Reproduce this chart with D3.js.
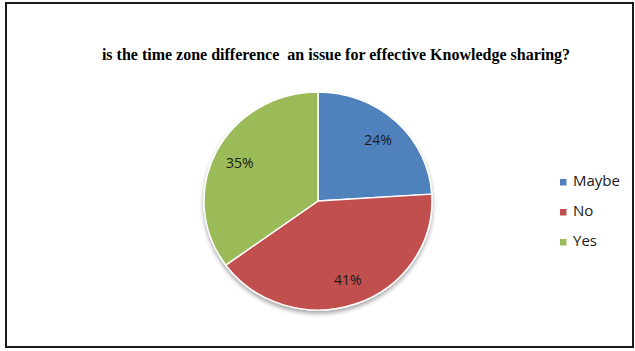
<!DOCTYPE html>
<html>
<head>
<meta charset="utf-8">
<script src="https://cdn.jsdelivr.net/npm/d3@7"></script>
<style>
  html, body { margin: 0; padding: 0; background: #fff; }
  svg { display: block; }
</style>
</head>
<body>
<svg id="chart" width="635" height="351"></svg>
<script>
// Survey answers and their shares (percent)
const categories = ["Maybe", "No", "Yes"];
const shares = [24, 41, 35];
const colors = ["#4F81BD", "#C0504D", "#9BBB59"];
const title = "is the time zone difference  an issue for effective Knowledge sharing?";

const svg = d3.select("#chart");

// Outer frame
svg.append("rect")
  .attr("x", 6).attr("y", 3)
  .attr("width", 627).attr("height", 344)
  .attr("fill", "#fff")
  .attr("stroke", "#1a1a1a")
  .attr("stroke-width", 2);

// Title
svg.append("text")
  .attr("x", 336).attr("y", 60)
  .attr("text-anchor", "middle")
  .attr("font-family", "'Liberation Serif', 'Times New Roman', serif")
  .attr("font-weight", "bold")
  .attr("font-size", 16)
  .attr("fill", "#000")
  .attr("xml:space", "preserve")
  .style("white-space", "pre")
  .text(title);

// Soft shadow under the pie
const defs = svg.append("defs");
const f = defs.append("filter").attr("id", "shadow")
  .attr("x", "-20%").attr("y", "-20%").attr("width", "140%").attr("height", "140%");
f.append("feGaussianBlur").attr("in", "SourceAlpha").attr("stdDeviation", 2).attr("result", "b");
f.append("feOffset").attr("in", "b").attr("dx", 0).attr("dy", 3).attr("result", "o");
f.append("feComponentTransfer").attr("in", "o").attr("result", "s")
  .append("feFuncA").attr("type", "linear").attr("slope", 0.35);
const m = f.append("feMerge");
m.append("feMergeNode").attr("in", "s");
m.append("feMergeNode").attr("in", "SourceGraphic");

const cx = 318, cy = 201, r = 114, sy = 0.956;

const pie = d3.pie().sort(null).value(d => d)(shares);
const arc = d3.arc().innerRadius(0).outerRadius(r);
const labelArc = d3.arc().innerRadius(r * 0.77).outerRadius(r * 0.77);

const g = svg.append("g")
  .attr("transform", `translate(${cx},${cy}) scale(1,${sy})`);

g.append("g").attr("filter", "url(#shadow)")
  .selectAll("path")
  .data(pie)
  .join("path")
  .attr("d", arc)
  .attr("fill", (d, i) => colors[i])
  .attr("stroke", "#fff")
  .attr("stroke-width", 1.5)
  .attr("stroke-linejoin", "round");

// Percentage labels inside slices
const fmt = d => d + "%";
svg.append("g")
  .selectAll("text")
  .data(pie)
  .join("text")
  .attr("x", d => cx + labelArc.centroid(d)[0])
  .attr("y", d => cy + labelArc.centroid(d)[1] * sy)
  .attr("dy", "0.36em")
  .attr("text-anchor", "middle")
  .attr("font-family", "'Open Sans', 'Noto Sans', sans-serif")
  .attr("font-size", 14)
  .attr("fill", "#1a1a1a")
  .text(d => fmt(d.data));

// Legend
const legend = svg.append("g").attr("transform", "translate(560,181)");
const item = legend.selectAll("g")
  .data(categories)
  .join("g")
  .attr("transform", (d, i) => `translate(0,${i * 30})`);
item.append("rect")
  .attr("y", -2)
  .attr("width", 6.5).attr("height", 6.5)
  .attr("fill", (d, i) => colors[i]);
item.append("text")
  .attr("x", 13).attr("y", 0)
  .attr("dy", "0.36em")
  .attr("font-family", "'Open Sans', 'Noto Sans', sans-serif")
  .attr("font-size", 15)
  .attr("fill", "#1a1a1a")
  .text(d => d);
</script>
</body>
</html>
